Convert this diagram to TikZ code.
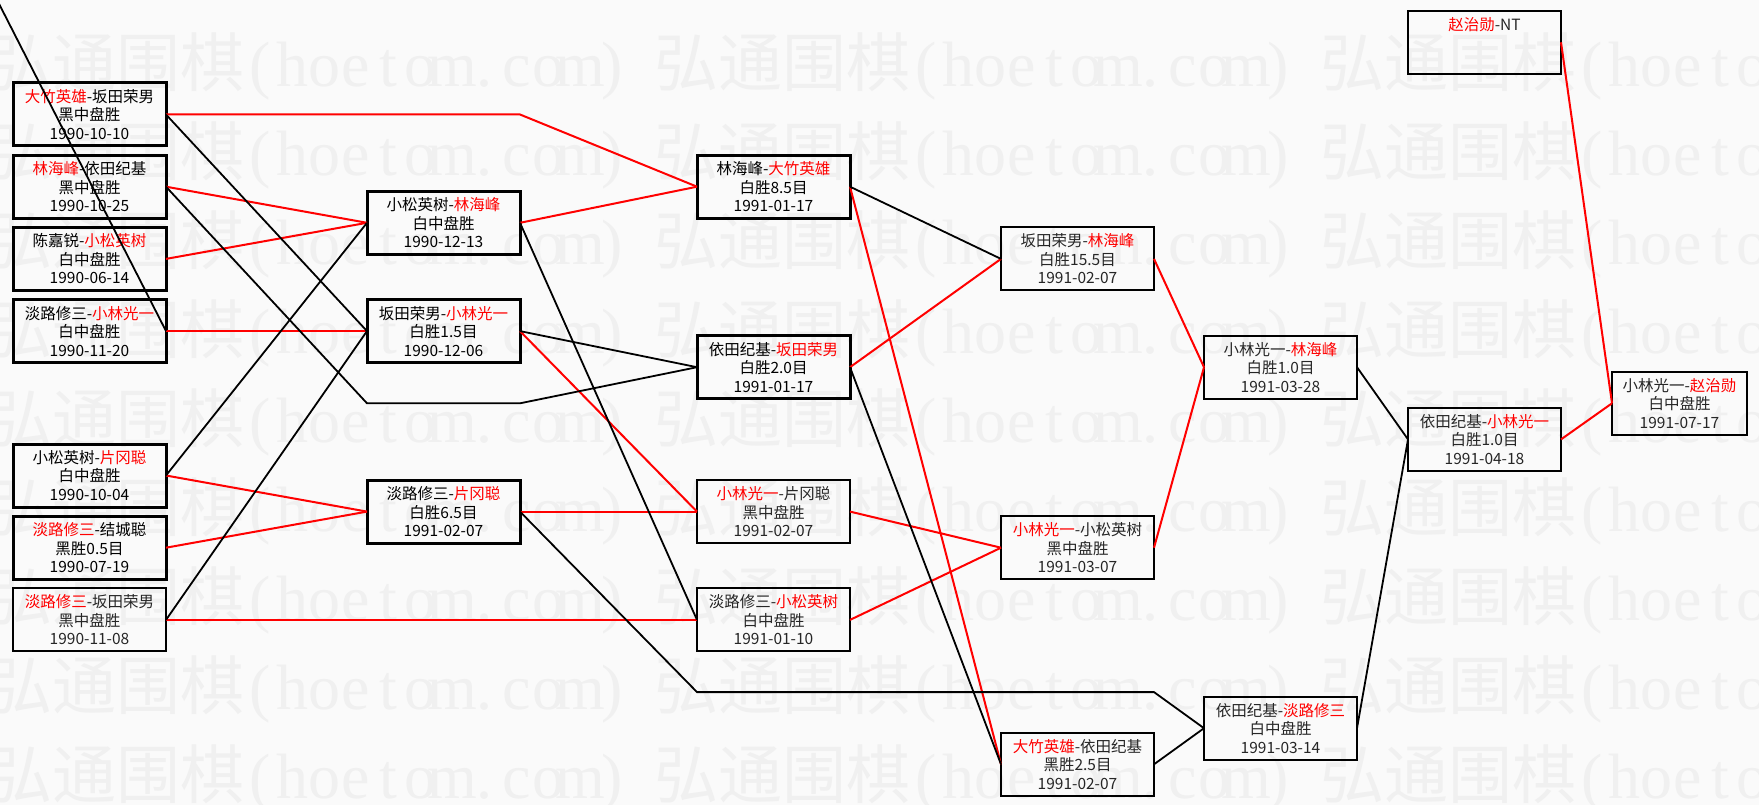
\documentclass[tikz,border=0pt]{standalone}
\usepackage{fontspec}
\setmainfont{Noto Sans CJK SC}
\newfontfamily\wmlatin{Liberation Serif}
\usetikzlibrary{positioning}
\definecolor{winred}{RGB}{255,0,0}
\definecolor{paper}{RGB}{250,250,250}
\definecolor{wmark}{RGB}{240,240,240}
\newcommand{\wn}[1]{\textcolor{winred}{#1}}
\newcommand{\wc}[1]{\makebox[32pt]{\wmlatin #1}}

\begin{document}
\begin{tikzpicture}[
    x=1pt, y=-1pt,
    game/.style={rectangle, draw=black, line width=2pt, text=black!85,
                minimum width=153pt, minimum height=63pt, inner sep=0pt, outer sep=0pt,
                anchor=north west, align=center, font=\fontsize{15.5}{18.5}\selectfont},
    keygame/.style={game, line width=3pt, text=black},
    win/.style={winred, line width=2pt},
    lose/.style={black, line width=1.8pt},
    wmtext/.style={wmark, anchor=west, inner sep=0pt, font=\fontsize{64}{64}\selectfont}
]

\clip (0,0) rectangle (1759,805);
\fill[paper] (0,0) rectangle (1759,805);

% watermark
\foreach \wy in {66,155,244,333,422,511,600,689,778}
  \foreach \wx in {-12,654,1320}
    \node[wmtext] at (\wx,\wy)
      {弘通围棋\wc{(}\wc{h}\wc{o}\wc{e}\wc{t}\wc{o}\wc{m}\wc{.}\wc{c}\wc{o}\wc{m}\wc{)}};

% round 1
\node[keygame] (r1a) at (13,83)    {\wn{大竹英雄}-坂田荣男\\黑中盘胜\\1990-10-10};
\node[keygame] (r1b) at (13,155.2) {\wn{林海峰}-依田纪基\\黑中盘胜\\1990-10-25};
\node[keygame] (r1c) at (13,227.4) {陈嘉锐-\wn{小松英树}\\白中盘胜\\1990-06-14};
\node[keygame] (r1d) at (13,299.6) {淡路修三-\wn{小林光一}\\白中盘胜\\1990-11-20};
\node[keygame] (r1e) at (13,444)   {小松英树-\wn{片冈聪}\\白中盘胜\\1990-10-04};
\node[keygame] (r1f) at (13,516.2) {\wn{淡路修三}-结城聪\\黑胜0.5目\\1990-07-19};
\node[game]    (r1g) at (13,588.4) {\wn{淡路修三}-坂田荣男\\黑中盘胜\\1990-11-08};

% round 2
\node[keygame] (r2a) at (367,191.3) {小松英树-\wn{林海峰}\\白中盘胜\\1990-12-13};
\node[keygame] (r2b) at (367,299.6) {坂田荣男-\wn{小林光一}\\白胜1.5目\\1990-12-06};
\node[keygame] (r2c) at (367,480.1) {淡路修三-\wn{片冈聪}\\白胜6.5目\\1991-02-07};

% round 3
\node[keygame] (r3a) at (697,155.2) {林海峰-\wn{大竹英雄}\\白胜8.5目\\1991-01-17};
\node[keygame] (r3b) at (697,335.7) {依田纪基-\wn{坂田荣男}\\白胜2.0目\\1991-01-17};
\node[game]    (r3c) at (697,480.1) {\wn{小林光一}-片冈聪\\黑中盘胜\\1991-02-07};
\node[game]    (r3d) at (697,588.4) {淡路修三-\wn{小松英树}\\白中盘胜\\1991-01-10};

% round 4
\node[game] (r4a) at (1001,227.4) {坂田荣男-\wn{林海峰}\\白胜15.5目\\1991-02-07};
\node[game] (r4b) at (1001,516.2) {\wn{小林光一}-小松英树\\黑中盘胜\\1991-03-07};
\node[game] (r4c) at (1001,732.8) {\wn{大竹英雄}-依田纪基\\黑胜2.5目\\1991-02-07};

% rounds 5 to 7
\node[game] (r5a) at (1204,335.7) {小林光一-\wn{林海峰}\\白胜1.0目\\1991-03-28};
\node[game] (r5b) at (1204,696.7) {依田纪基-\wn{淡路修三}\\白中盘胜\\1991-03-14};
\node[game] (r6a) at (1408,407.9) {依田纪基-\wn{小林光一}\\白胜1.0目\\1991-04-18};
\node[game] (r6s) at (1408,10.8)  {\wn{赵治勋}-NT\\~\\~};
\node[game, minimum width=135pt] (r7a) at (1612,371.8) {小林光一-\wn{赵治勋}\\白中盘胜\\1991-07-17};

\coordinate (row4) at (0,403.3);
\coordinate (row8) at (0,692.1);
\coordinate (offleft) at (-8,-10);

% winners
\draw[win] (r1a.east) -- (r1a.east -| r2a.east) -- (r3a.west);
\draw[win] (r1b.east) -- (r2a.west);
\draw[win] (r1c.east) -- (r2a.west);
\draw[win] (r1d.east) -- (r2b.west);
\draw[win] (r1e.east) -- (r2c.west);
\draw[win] (r1f.east) -- (r2c.west);
\draw[win] (r1g.east) -- (r3d.west);
\draw[win] (r2a.east) -- (r3a.west);
\draw[win] (r2b.east) -- (r3c.west);
\draw[win] (r2c.east) -- (r3c.west);
\draw[win] (r3a.east) -- (r4c.west);
\draw[win] (r3b.east) -- (r4a.west);
\draw[win] (r3c.east) -- (r4b.west);
\draw[win] (r3d.east) -- (r4b.west);
\draw[win] (r4a.east) -- (r5a.west);
\draw[win] (r4b.east) -- (r5a.west);
\draw[win] (r6a.east) -- (r7a.west);
\draw[win] (r6s.east) -- (r7a.west);

% losers
\draw[lose] (r1a.east) -- (r2b.west);
\draw[lose] (r1b.east) -- (r2b.west |- row4) -- (r2b.east |- row4) -- (r3b.west);
\draw[lose] (r1d.east) -- (offleft);
\draw[lose] (r1e.east) -- (r2a.west);
\draw[lose] (r1g.east) -- (r2b.west);
\draw[lose] (r2a.east) -- (r3d.west);
\draw[lose] (r2b.east) -- (r3b.west);
\draw[lose] (r2c.east) -- (r3d.west |- row8) -- (r4c.east |- row8) -- (r5b.west);
\draw[lose] (r3a.east) -- (r4a.west);
\draw[lose] (r3b.east) -- (r4c.west);
\draw[lose] (r4c.east) -- (r5b.west);
\draw[lose] (r5a.east) -- (r6a.west);
\draw[lose] (r5b.east) -- (r6a.west);

\end{tikzpicture}
\end{document}
